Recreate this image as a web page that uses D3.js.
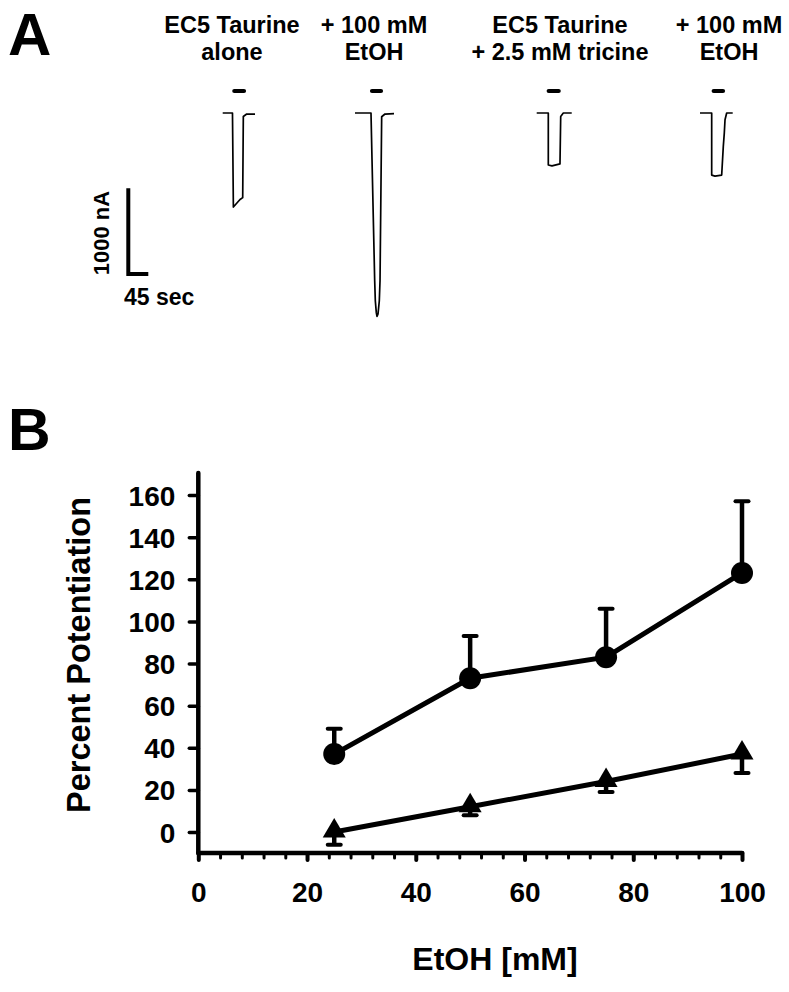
<!DOCTYPE html>
<html>
<head>
<meta charset="utf-8">
<script src="https://cdn.jsdelivr.net/npm/d3@7"></script>
<style>
  html, body { margin: 0; padding: 0; background: #fff; }
  svg { display: block; }
  text { font-family: "Liberation Sans", Arial, sans-serif; font-weight: bold; fill: #000; }
</style>
</head>
<body>
<svg id="chart" width="789" height="992"></svg>
<script>
// ---------------- DATA ----------------
// Panel A: recording labels (two lines each)
const traceLabels = [
  ["EC5 Taurine", "alone"],
  ["+ 100 mM", "EtOH"],
  ["EC5 Taurine", "+ 2.5 mM tricine"],
  ["+ 100 mM", "EtOH"]
];
// Panel A: current traces, [time (s), current (nA)] relative to sweep start
const trace1 = [[0,0],[22,0],[24,-1100],[30,-1065],[39,-1012],[45,-990],[46.4,-41],[54,-12],[72.7,-12]];
const trace2 = [[0,0],[36,0],[38.3,-549],[44.3,-1961],[45.7,-2196],[48,-2338],[49.5,-2379],[51.8,-2349],[54.7,-2196],[56.3,-1961],[60,-44],[67.5,-12],[87.8,-8]];
const trace3 = [[0,0],[26.1,0],[26.1,-608],[34.4,-619],[52.4,-595],[54,-40],[59.9,0],[78.8,0]];
const trace4 = [[0,0],[26.3,0],[26.3,-726],[33.8,-738],[48.8,-726],[52.4,-393],[54.7,-232],[56.3,-79],[60,0],[73.6,0]];
const traces = [trace1, trace2, trace3, trace4];
// Drug application periods [start, end] (s) relative to sweep start
const applications = [[21.6,52.4],[33.8,63],[22.5,54],[26.3,56.3]];
// Scale bar values
const scaleBarCurrent = 1000; // nA
const scaleBarTime = 45;      // s
const scaleBarLabels = ["1000 nA", "45 sec"];

// Panel B
const ethanol = [25, 50, 75, 100];                 // EtOH [mM]
const potentiationAlone = [37, 73, 83, 123];       // circles
const errAlone = [12, 20, 23, 34];
const potentiationTricine = [0, 12, 24, 37];       // triangles
const errTricine = [6, 4, 5, 9];
const xTicks = [0, 20, 40, 60, 80, 100];
const xMinorTicks = d3.range(0, 101, 4);
const yTicks = [0, 20, 40, 60, 80, 100, 120, 140, 160];
const xTitle = "EtOH [mM]";
const yTitle = "Percent Potentiation";

// ---------------- DRAW ----------------
const svg = d3.select("#chart");
svg.append("rect").attr("width", 789).attr("height", 992).attr("fill", "#fff");

// Panel letters
svg.append("text").attr("x", 8).attr("y", 55).attr("font-size", 60).text("A");
svg.append("text").attr("x", 8).attr("y", 450).attr("font-size", 59).text("B");

// ----- Panel A -----
const sweepLeft = [222.7, 355, 536.7, 700];
const labelCenter = [232, 374, 560, 729];
const baselineY = 113;
const tA = d3.scaleLinear().domain([0, 45]).range([0, 20]);      // seconds -> px
const iA = d3.scaleLinear().domain([0, -1000]).range([baselineY, baselineY + 85.5]); // nA -> px

const gA = svg.append("g");
traceLabels.forEach((lines, k) => {
  lines.forEach((s, j) => {
    gA.append("text")
      .attr("x", labelCenter[k]).attr("y", 32.5 + j * 27)
      .attr("text-anchor", "middle").attr("font-size", 23.5)
      .text(s);
  });
});

const lineA = d3.line().x(d => tA(d[0])).y(d => iA(d[1]));
traces.forEach((tr, k) => {
  const g = gA.append("g").attr("transform", `translate(${sweepLeft[k]},0)`);
  g.append("path").attr("d", lineA(tr))
    .attr("fill", "none").attr("stroke", "#000").attr("stroke-width", 1.7)
    .attr("stroke-linejoin", "round");
  const ap = applications[k];
  g.append("line")
    .attr("x1", tA(ap[0]) + 2).attr("x2", tA(ap[1]) - 2)
    .attr("y1", 91).attr("y2", 91)
    .attr("stroke", "#000").attr("stroke-width", 4.2).attr("stroke-linecap", "round");
});

// Scale bar
const sbX = 128.3, sbY = 274;
const sbTime = d3.scaleLinear().domain([0, 45]).range([0, 20]);
const sbCur = d3.scaleLinear().domain([0, 1000]).range([0, 85.7]);
gA.append("path")
  .attr("d", `M${sbX},${sbY - sbCur(scaleBarCurrent)} L${sbX},${sbY} L${sbX + sbTime(scaleBarTime)},${sbY}`)
  .attr("fill", "none").attr("stroke", "#000").attr("stroke-width", 4);
gA.append("text")
  .attr("transform", `translate(109,233) rotate(-90)`)
  .attr("text-anchor", "middle").attr("font-size", 22)
  .text(scaleBarLabels[0]);
gA.append("text")
  .attr("x", 124).attr("y", 305).attr("font-size", 23)
  .text(scaleBarLabels[1]);

// ----- Panel B -----
const xB = d3.scaleLinear().domain([0, 100]).range([198.3, 742]);
const yB = d3.scaleLinear().domain([0, 160]).range([832, 495]);
const axisY0 = yB(-10);

const gB = svg.append("g");

// x axis minor ticks
const xAxisMinor = d3.axisBottom(xB).tickValues(xMinorTicks.filter(v => v % 20 !== 0))
  .tickSize(5).tickFormat("");
const gxm = gB.append("g").attr("transform", `translate(0,${axisY0})`).call(xAxisMinor);
gxm.select(".domain").remove();
gxm.selectAll(".tick line").attr("stroke", "#000").attr("stroke-width", 3).attr("stroke-linecap", "round");

// x axis major ticks + labels
const xAxis = d3.axisBottom(xB).tickValues(xTicks).tickSize(7).tickFormat(d3.format("d"));
const gx = gB.append("g").attr("transform", `translate(0,${axisY0})`).call(xAxis);
gx.select(".domain").remove();
gx.selectAll(".tick line").attr("stroke", "#000").attr("stroke-width", 4).attr("stroke-linecap", "round");
gx.selectAll(".tick text")
  .attr("y", 49).attr("dy", 0)
  .attr("font-size", 28).attr("fill", "#000")
  .style("font-family", '"Liberation Sans", Arial, sans-serif').style("font-weight", "bold");

// y axis
const yAxis = d3.axisLeft(yB).tickValues(yTicks).tickSize(9).tickPadding(15).tickFormat(d3.format("d"));
const gy = gB.append("g").attr("transform", `translate(${xB(0)},0)`).call(yAxis);
gy.select(".domain").remove();
gy.selectAll(".tick line").attr("stroke", "#000").attr("stroke-width", 3.5).attr("stroke-linecap", "round");
gy.selectAll(".tick text")
  .attr("x", -23).attr("dy", "0.36em")
  .attr("font-size", 28).attr("fill", "#000")
  .style("font-family", '"Liberation Sans", Arial, sans-serif').style("font-weight", "bold");

// axis lines
gB.append("line").attr("x1", xB(0)).attr("x2", xB(0)).attr("y1", axisY0).attr("y2", yB(170.5))
  .attr("stroke", "#000").attr("stroke-width", 4.5).attr("stroke-linecap", "round");
gB.append("line").attr("x1", xB(0)).attr("x2", xB(100)).attr("y1", axisY0).attr("y2", axisY0)
  .attr("stroke", "#000").attr("stroke-width", 4.5).attr("stroke-linecap", "round");

// titles
gB.append("text").attr("x", 495).attr("y", 970).attr("text-anchor", "middle")
  .attr("font-size", 32).text(xTitle);
gB.append("text").attr("transform", "translate(90,655) rotate(-90)")
  .attr("text-anchor", "middle").attr("font-size", 32.5).text(yTitle);

// series
const alone = ethanol.map((x, i) => ({x, y: potentiationAlone[i], e: errAlone[i]}));
const tric = ethanol.map((x, i) => ({x, y: potentiationTricine[i], e: errTricine[i]}));
const lineB = d3.line().x(d => xB(d.x)).y(d => yB(d.y));

// error bars
function errBars(data, dir) {
  const g = gB.append("g");
  g.selectAll("line.stem").data(data).join("line")
    .attr("x1", d => xB(d.x)).attr("x2", d => xB(d.x))
    .attr("y1", d => yB(d.y)).attr("y2", d => yB(d.y + dir * d.e))
    .attr("stroke", "#000").attr("stroke-width", 4.5);
  g.selectAll("line.cap").data(data).join("line")
    .attr("x1", d => xB(d.x) - 6.5).attr("x2", d => xB(d.x) + 6.5)
    .attr("y1", d => yB(d.y + dir * d.e)).attr("y2", d => yB(d.y + dir * d.e))
    .attr("stroke", "#000").attr("stroke-width", 4).attr("stroke-linecap", "round");
}
errBars(alone, 1);
errBars(tric, -1);

gB.append("path").attr("d", lineB(alone)).attr("fill", "none").attr("stroke", "#000").attr("stroke-width", 5);
gB.append("path").attr("d", lineB(tric)).attr("fill", "none").attr("stroke", "#000").attr("stroke-width", 5);

gB.selectAll("ellipse.m").data(alone).join("ellipse")
  .attr("cx", d => xB(d.x)).attr("cy", d => yB(d.y)).attr("rx", 11).attr("ry", 11)
  .attr("fill", "#000");
gB.selectAll("path.tri").data(tric).join("path")
  .attr("transform", d => `translate(${xB(d.x)},${yB(d.y)})`)
  .attr("d", "M0,-14 L11.5,5.5 L-11.5,5.5 Z")
  .attr("fill", "#000");
</script>
</body>
</html>
